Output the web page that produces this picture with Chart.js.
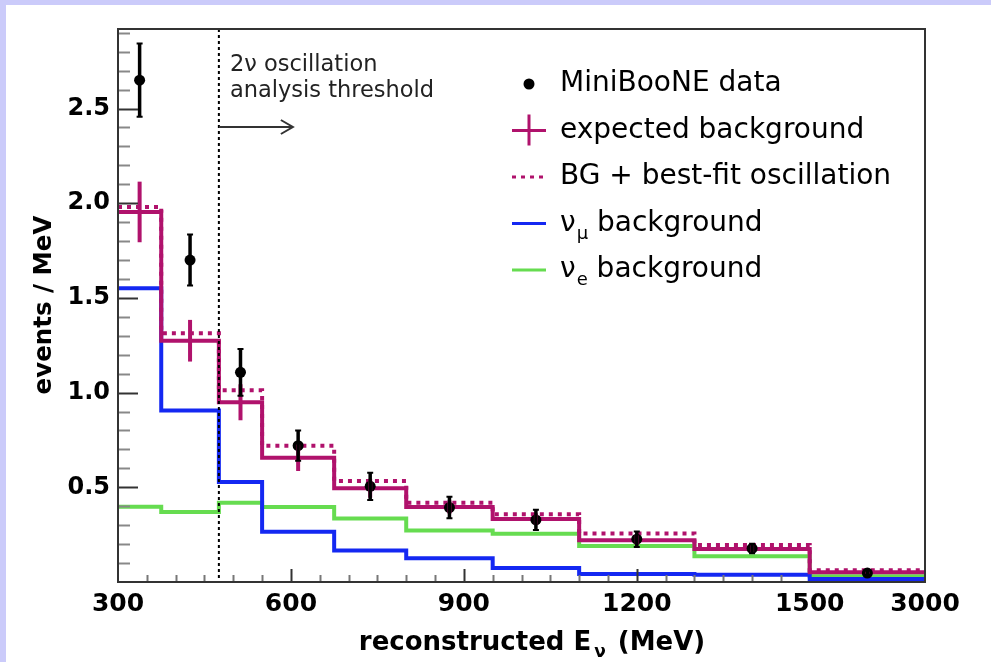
<!DOCTYPE html>
<html>
<head>
<meta charset="utf-8">
<script src="https://cdn.jsdelivr.net/npm/chart.js@4.4.1/dist/chart.umd.min.js"></script>
<style>
  html, body { margin: 0; padding: 0; background: #ffffff; overflow: hidden; }
  #wrap { position: relative; width: 991px; height: 662px; }
</style>
</head>
<body>
<div id="wrap"><canvas id="oscChart"></canvas></div>
<script>
// bin edges in MeV (last bin 1500-3000 is drawn compressed)
const binEdges = [300, 375, 475, 550, 675, 800, 950, 1100, 1300, 1500, 3000];

const dataValues = [2.65, 1.70, 1.107, 0.72, 0.505, 0.393, 0.328, 0.226, 0.177, 0.047];
const dataErrors = [0.194, 0.135, 0.123, 0.08, 0.072, 0.057, 0.054, 0.041, 0.025, 0.012];

const expectedBg = [1.954, 1.274, 0.949, 0.656, 0.495, 0.396, 0.332, 0.221, 0.174, 0.051];
const expectedBgErr = [0.16, 0.11, 0.095, 0.07, 0.05, 0.035, 0.03, 0.025, 0.02, 0.008];
const bestFitBg = [1.98, 1.314, 1.012, 0.72, 0.533, 0.419, 0.358, 0.256, 0.195, 0.062];
const numuBg = [1.551, 0.905, 0.528, 0.265, 0.166, 0.125, 0.074, 0.042, 0.038, 0.016];
const nueBg = [0.398, 0.37, 0.419, 0.396, 0.335, 0.272, 0.255, 0.19, 0.136, 0.03];

const xTickValues = [300, 600, 900, 1200, 1500, 3000];
const xTickLabels = ["300", "600", "900", "1200", "1500", "3000"];
const thresholdMeV = 475;

const MAGENTA = "#b0126c";
const BLUE = "#1428f2";
const GREEN = "#66dc50";
const FONT = "'DejaVu Sans', sans-serif";

// linear up to 1500 MeV, the 1500-3000 bin squeezed into 200 axis units
function toAxis(e) {
  return e <= 1500 ? e : 1500 + (e - 1500) * 200 / 1500;
}

function stepData(vals) {
  return binEdges.map((e, i) => ({ x: toAxis(e), y: vals[Math.min(i, vals.length - 1)] }));
}

const binCenters = binEdges.slice(0, -1).map((e, i) => toAxis((e + binEdges[i + 1]) / 2));

function histo(label, vals, color, order, dash) {
  return {
    type: "line",
    label: label,
    data: stepData(vals),
    stepped: true,
    borderColor: color,
    borderWidth: 4,
    borderDash: dash || [],
    borderCapStyle: "butt",
    borderJoinStyle: "miter",
    pointRadius: 0,
    fill: false,
    order: order
  };
}

const framePlugin = {
  id: "frame",
  beforeDraw(chart) {
    const ctx = chart.ctx;
    ctx.save();
    ctx.fillStyle = "#cbcbfa";
    ctx.fillRect(0, 0, chart.width, chart.height);
    ctx.fillStyle = "#ffffff";
    ctx.fillRect(6, 5, chart.width - 6, chart.height - 5);
    ctx.restore();
  },
  afterDatasetsDraw(chart) {
    const ctx = chart.ctx;
    const a = chart.chartArea;
    const xs = chart.scales.x, ys = chart.scales.y;
    ctx.save();

    // threshold line
    const tx = xs.getPixelForValue(toAxis(thresholdMeV));
    ctx.strokeStyle = "#000";
    ctx.lineWidth = 2;
    ctx.setLineDash([3, 3]);
    ctx.beginPath();
    ctx.moveTo(tx, a.top);
    ctx.lineTo(tx, a.bottom);
    ctx.stroke();
    ctx.setLineDash([]);

    // expected background error crosses
    ctx.strokeStyle = MAGENTA;
    ctx.lineWidth = 4;
    binCenters.forEach((c, i) => {
      const x = xs.getPixelForValue(c);
      ctx.beginPath();
      ctx.moveTo(x, ys.getPixelForValue(expectedBg[i] - expectedBgErr[i]));
      ctx.lineTo(x, ys.getPixelForValue(expectedBg[i] + expectedBgErr[i]));
      ctx.stroke();
    });

    // data error bars
    ctx.strokeStyle = "#000";
    binCenters.forEach((c, i) => {
      const x = xs.getPixelForValue(c);
      const y1 = ys.getPixelForValue(dataValues[i] - dataErrors[i]);
      const y2 = ys.getPixelForValue(dataValues[i] + dataErrors[i]);
      ctx.lineWidth = 3.5;
      ctx.beginPath();
      ctx.moveTo(x, y1);
      ctx.lineTo(x, y2);
      ctx.stroke();
      ctx.lineWidth = 2;
      ctx.beginPath();
      ctx.moveTo(x - 3, y1); ctx.lineTo(x + 3, y1);
      ctx.moveTo(x - 3, y2); ctx.lineTo(x + 3, y2);
      ctx.stroke();
    });
    ctx.restore();
  },
  afterDraw(chart) {
    const ctx = chart.ctx;
    const a = chart.chartArea;
    const xs = chart.scales.x, ys = chart.scales.y;
    ctx.save();

    // inward ticks, ROOT style
    ctx.lineWidth = 2;
    for (let i = 1; i * 0.1 < ys.max; i++) {
      const y = Math.round(ys.getPixelForValue(i / 10)) + 0.5;
      const major = i % 5 === 0;
      ctx.strokeStyle = major ? "#333" : "#888";
      ctx.beginPath();
      ctx.moveTo(a.left, y);
      ctx.lineTo(a.left + (major ? 20 : 12), y);
      ctx.stroke();
    }
    for (let e = 350; e < 1500; e += 50) {
      const x = Math.round(xs.getPixelForValue(e)) + 0.5;
      const major = e % 300 === 0;
      ctx.strokeStyle = major ? "#333" : "#777";
      ctx.beginPath();
      ctx.moveTo(x, a.bottom);
      ctx.lineTo(x, a.bottom - (major ? 13 : 7));
      ctx.stroke();
    }

    // frame
    ctx.strokeStyle = "#333";
    ctx.lineWidth = 2;
    ctx.strokeRect(a.left, a.top, a.right - a.left, a.bottom - a.top);

    // threshold annotation
    const tx = xs.getPixelForValue(toAxis(thresholdMeV));
    ctx.fillStyle = "#222";
    ctx.font = "22.5px " + FONT;
    ctx.textAlign = "left";
    ctx.textBaseline = "alphabetic";
    ctx.fillText("2ν oscillation", tx + 11, 71);
    ctx.fillText("analysis threshold", tx + 11, 97);
    ctx.strokeStyle = "#333";
    ctx.lineWidth = 2;
    ctx.beginPath();
    ctx.moveTo(tx, 127);
    ctx.lineTo(tx + 74, 127);
    ctx.moveTo(tx + 62, 120);
    ctx.lineTo(tx + 74, 127);
    ctx.lineTo(tx + 62, 134);
    ctx.stroke();

    // axis titles
    ctx.fillStyle = "#000";
    ctx.font = "bold 26px " + FONT;
    const t1 = "reconstructed E", t3 = "(MeV)";
    const w1 = ctx.measureText(t1).width, w3 = ctx.measureText(t3).width;
    ctx.font = "bold 17px " + FONT;
    const wNu = ctx.measureText("ν").width;
    const total = w1 + 3 + wNu + 12 + w3;
    let sx = 532 - total / 2;
    ctx.font = "bold 26px " + FONT;
    ctx.fillText(t1, sx, 650);
    ctx.font = "bold 17px " + FONT;
    ctx.fillText("ν", sx + w1 + 3, 657);
    ctx.font = "bold 26px " + FONT;
    ctx.fillText(t3, sx + w1 + 3 + wNu + 12, 650);

    ctx.save();
    ctx.translate(51, 305);
    ctx.rotate(-Math.PI / 2);
    ctx.textAlign = "center";
    ctx.font = "bold 24.5px " + FONT;
    ctx.fillText("events / MeV", 0, 0);
    ctx.restore();

    // legend
    const rows = [
      { text: "MiniBooNE data", sym: "dot", base: 91 },
      { text: "expected background", sym: "cross", base: 137.5 },
      { text: "BG + best-fit oscillation", sym: "dotted", base: 184 },
      { text: "ν", sub: "μ", rest: " background", sym: "line", color: BLUE, base: 230.5 },
      { text: "ν", sub: "e", rest: " background", sym: "line", color: GREEN, base: 277 }
    ];
    rows.forEach(r => {
      const cy = r.base - 7;
      ctx.lineWidth = 3;
      if (r.sym === "dot") {
        ctx.fillStyle = "#000";
        ctx.beginPath();
        ctx.arc(529, cy, 5.5, 0, Math.PI * 2);
        ctx.fill();
      } else if (r.sym === "cross") {
        ctx.strokeStyle = MAGENTA;
        ctx.beginPath();
        ctx.moveTo(512, cy); ctx.lineTo(546, cy);
        ctx.moveTo(529, cy - 16); ctx.lineTo(529, cy + 15);
        ctx.stroke();
      } else if (r.sym === "dotted") {
        ctx.strokeStyle = MAGENTA;
        ctx.setLineDash([4, 5]);
        ctx.beginPath();
        ctx.moveTo(512, cy); ctx.lineTo(546, cy);
        ctx.stroke();
        ctx.setLineDash([]);
      } else {
        ctx.strokeStyle = r.color;
        ctx.beginPath();
        ctx.moveTo(512, cy); ctx.lineTo(546, cy);
        ctx.stroke();
      }
      ctx.fillStyle = "#000";
      ctx.font = "28px " + FONT;
      ctx.fillText(r.text, 560, r.base);
      if (r.sub) {
        let x = 560 + ctx.measureText(r.text).width + 1;
        ctx.font = "18px " + FONT;
        ctx.fillText(r.sub, x, r.base + 8);
        x += ctx.measureText(r.sub).width;
        ctx.font = "28px " + FONT;
        ctx.fillText(r.rest, x, r.base);
      }
    });
    ctx.restore();
  }
};

new Chart(document.getElementById("oscChart").getContext("2d"), {
  data: {
    datasets: [
      {
        type: "scatter",
        label: "MiniBooNE data",
        data: binCenters.map((c, i) => ({ x: c, y: dataValues[i] })),
        pointRadius: 5.5,
        pointBackgroundColor: "#000",
        pointBorderWidth: 0,
        order: 0
      },
      histo("BG + best-fit oscillation", bestFitBg, MAGENTA, 1, [4, 5]),
      histo("expected background", expectedBg, MAGENTA, 2),
      histo("numu background", numuBg, BLUE, 3),
      histo("nue background", nueBg, GREEN, 4)
    ]
  },
  options: {
    responsive: true,
    maintainAspectRatio: false,
    animation: false,
    layout: { padding: { top: 29, right: 66, left: 0, bottom: 0 } },
    plugins: { legend: { display: false }, tooltip: { enabled: false } },
    scales: {
      x: {
        type: "linear",
        min: 300,
        max: toAxis(3000),
        grid: { display: false, drawTicks: false },
        border: { display: false },
        afterBuildTicks: (scale) => {
          scale.ticks = xTickValues.map(v => ({ value: toAxis(v) }));
        },
        afterFit: (scale) => { scale.height = 80; },
        ticks: {
          autoSkip: false,
          maxRotation: 0,
          padding: 7,
          color: "#000",
          font: { family: "DejaVu Sans", size: 25, weight: "bold" },
          callback: (value, index) => xTickLabels[index]
        }
      },
      y: {
        type: "linear",
        min: 0,
        max: 2.92,
        grid: { display: false, drawTicks: false },
        border: { display: false },
        afterFit: (scale) => { scale.width = 118; },
        ticks: {
          stepSize: 0.5,
          includeBounds: false,
          padding: 8,
          color: "#000",
          font: { family: "DejaVu Sans", size: 24, weight: "bold" },
          callback: (value) => value === 0 ? "" : value.toFixed(1)
        }
      }
    }
  },
  plugins: [framePlugin]
});
</script>
</body>
</html>
